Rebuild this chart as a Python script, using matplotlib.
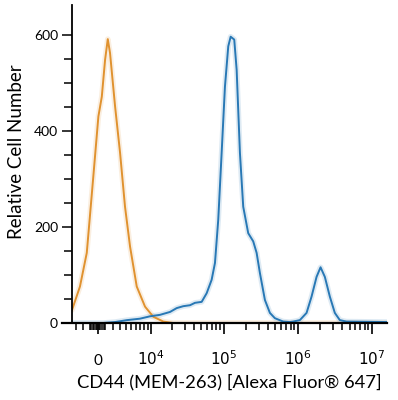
import matplotlib
matplotlib.use("Agg")
import matplotlib.pyplot as plt
import numpy as np

# fluorescence intensity (biexponential axis) and cell counts
ctrl_x = [-3650, -2400, -1450, -600, 40, 470, 890, 1240, 1540, 2240, 2990, 3800,
          4720, 6120, 8240, 10900, 15100, 20600, 1e5, 1e6, 1.6e7]
ctrl_y = [27, 76, 146, 305, 430, 471, 548, 591, 562, 451, 354, 242,
          159, 76, 34, 13, 3, 0, 0, 0, 0]

cd44_x = [-3650, 630, 2240, 4160, 6900, 9800, 13570, 18700, 23100, 28400, 35060,
          41000, 50500, 59000, 68900, 76400, 84600, 94000, 104200, 115500, 124400,
          139100, 149900, 166000, 183900, 214800, 250800, 278800, 308800, 360600,
          421200, 491800, 636200, 783200, 868000, 1.068e6, 1.315e6, 1.536e6,
          1.794e6, 2.031e6, 2.321e6, 2.71e6, 3.165e6, 3.696e6, 4.55e6, 1.6e7]
cd44_y = [0, 0, 2, 6, 9, 14, 17, 23, 31, 35, 37,
          42, 44, 62, 90, 125, 215, 354, 492, 576, 596,
          590, 527, 354, 242, 187, 170, 146, 104, 48,
          21, 10, 3, 2, 3, 6, 21, 55,
          96, 116, 96, 55, 21, 6, 3, 2]

major_ticks = [0, 1e4, 1e5, 1e6, 1e7]
major_labels = ["0", "$10^{4}$", "$10^{5}$", "$10^{6}$", "$10^{7}$"]

W = 4050.0


def fwd(x):
    return np.arcsinh(np.asarray(x) / W) / np.log(10)


def inv(y):
    return W * np.sinh(np.asarray(y) * np.log(10))


plt.rcParams['font.family'] = ['Lato', 'DejaVu Sans']

fig = plt.figure(figsize=(3.98, 4.0), dpi=100)
ax = fig.add_axes([72 / 398, 77 / 400, 315 / 398, 318 / 400])
ax.set_xscale('function', functions=(fwd, inv))

orange = '#E0922F'
blue = '#2878B5'
ax.plot(ctrl_x, ctrl_y, color=orange, lw=4, alpha=0.15, solid_capstyle='round')
ax.plot(cd44_x, cd44_y, color=blue, lw=4, alpha=0.15, solid_capstyle='round')
ax.plot(ctrl_x, ctrl_y, color=orange, lw=1.4)
ax.plot(cd44_x, cd44_y, color=blue, lw=1.4)

ax.set_xlim(-3650, 1.6e7)
ax.set_ylim(0, 662)

ax.spines['top'].set_visible(False)
ax.spines['right'].set_visible(False)
ax.spines['left'].set_linewidth(1.3)
ax.spines['bottom'].set_linewidth(1.6)
ax.spines['left'].set_bounds(0, 662)
ax.spines['bottom'].set_bounds(-5500, 1.6e7)

# y ticks
ax.set_yticks([0, 200, 400, 600])
ax.set_yticks([50, 100, 150, 250, 300, 350, 450, 500, 550], minor=True)
ax.tick_params(axis='y', which='major', length=7, width=1.1, labelsize=10, pad=3)
ax.tick_params(axis='y', which='minor', length=6, width=1.1)

# x ticks
minor = []
for s in (-1, 1):
    minor += [s * v for v in range(100, 1000, 200)]
minor += [-3000, -2000, -1000]
minor += list(range(2000, 10000, 1000))
for dec in (1e4, 1e5, 1e6):
    minor += [m * dec for m in range(2, 10)]
ax.set_xticks(major_ticks)
ax.set_xticklabels(major_labels)
ax.set_xticks(minor, minor=True)
ax.tick_params(axis='x', which='major', length=8, width=1.2, labelsize=11, pad=22)
ax.tick_params(axis='x', which='minor', length=5, width=1.1)
for lab in ax.get_xticklabels():
    lab.set_va('baseline')

ax.set_ylabel("Relative Cell Number", fontsize=13.5)
ax.yaxis.set_label_coords(-0.15, 0.54)
ax.set_xlabel("CD44 (MEM-263) [Alexa Fluor® 647]", fontsize=13.2)
ax.xaxis.set_label_coords(0.5, -0.16)

fig.savefig("out.png", dpi=100)
